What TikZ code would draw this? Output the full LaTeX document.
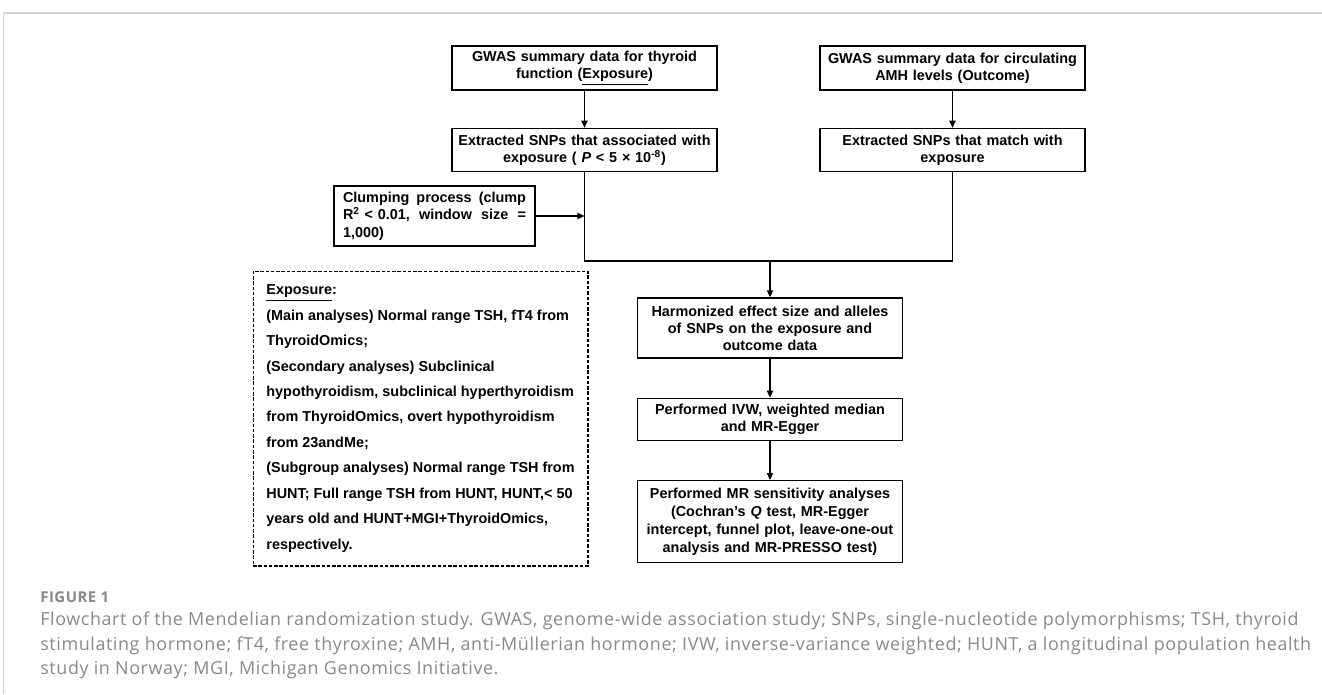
\documentclass[tikz,border=0pt]{standalone}
\usepackage{fontspec}
\setmainfont{Liberation Sans}
\newfontfamily\capfont[LetterSpace=3.3]{Open Sans}
\usetikzlibrary{positioning,arrows.meta}
\definecolor{capgray}{HTML}{888888}
\definecolor{framegray}{HTML}{D2D2D2}

\tikzset{
  flowbox/.style={draw, line width=0.8pt, align=center, text width=5.1cm,
    inner xsep=0.1cm, inner ysep=1pt,
    font=\fontsize{8.2}{9.7}\selectfont\bfseries},
  notebox/.style={draw, dash pattern=on 2pt off 1pt, line width=0.6pt,
    align=left, minimum width=6.7cm, minimum height=5.9cm,
    font=\fontsize{8.2}{14.5}\selectfont\bfseries},
  flowarrow/.style={-{Triangle[length=4pt,width=3.5pt]}, line width=0.8pt},
  flowline/.style={line width=0.8pt},
  capline/.style={anchor=west, inner sep=0pt, text=capgray,
    font=\capfont\fontsize{10.2}{12}\selectfont},
}

\begin{document}
\begin{tikzpicture}[x=0.02cm,y=-0.02cm]
\useasboundingbox (0,0) rectangle (1322,694);
% page frame
\draw[framegray, line width=1.2pt] (3,13) -- (1322,13);
\draw[framegray, line width=0.5pt] (3.5,13) -- (3.5,694);

% exposure side
\node[flowbox, minimum height=0.88cm] (gwasT) at (584.5,68)
  {GWAS summary data for thyroid\\function (\underline{Exposure})};
\node[flowbox, minimum height=0.86cm, below=0.74cm of gwasT] (snpT)
  {Extracted SNPs that associated with\\exposure ( \textit{P} < 5 × 10\textsuperscript{-8})};

% outcome side
\node[flowbox, minimum height=0.88cm] (gwasA) at (952.5,68)
  {GWAS summary data for circulating\\AMH levels (Outcome)};
\node[flowbox, minimum height=0.86cm, below=0.74cm of gwasA] (snpA)
  {Extracted SNPs that match with\\exposure};

% clumping
\node[flowbox, align=left, text width=3.66cm, inner xsep=0.18cm,
  minimum height=1.2cm, font=\fontsize{8.2}{10}\selectfont\bfseries] (clump) at (434.5,216)
  {\makebox[3.66cm]{Clumping\hfill process\hfill (clump}\\
   \makebox[3.66cm]{R\textsuperscript{2} < 0.01,\hfill window\hfill size\hfill =}\\
   1,000)};

\coordinate (join) at (770,261);

% analysis steps
\node[flowbox, minimum height=1.2cm] (harm) at (770,328)
  {Harmonized effect size and alleles\\of SNPs on the exposure and\\outcome data};
\node[flowbox, minimum height=0.84cm, below=0.78cm of harm] (ivw)
  {Performed IVW, weighted median\\and MR-Egger};
\node[flowbox, minimum height=1.64cm, below=0.78cm of ivw,
  font=\fontsize{8.2}{10.3}\selectfont\bfseries] (sens)
  {Performed MR sensitivity analyses\\(Cochran’s \textit{Q} test, MR-Egger\\intercept, funnel plot, leave-one-out\\analysis and MR-PRESSO test)};

% exposure note
\node[notebox] (note) at (420.5,418.5)
  {\underline{Exposure}:\\
   (Main analyses) Normal range TSH, fT4 from\\
   ThyroidOmics;\\
   (Secondary analyses) Subclinical\\
   hypothyroidism, subclinical hyperthyroidism\\
   from ThyroidOmics, overt hypothyroidism\\
   from 23andMe;\\
   (Subgroup analyses) Normal range TSH from\\
   HUNT; Full range TSH from HUNT, HUNT,< 50\\
   years old and HUNT+MGI+ThyroidOmics,\\
   respectively.};

% connectors
\draw[flowarrow] (gwasT) -- (snpT);
\draw[flowarrow] (gwasA) -- (snpA);
\draw[flowline] (snpT) |- (join) -| (snpA);
\draw[flowarrow] (clump.east) -- (clump.east -| snpT.south);
\draw[flowarrow] (join) -- (harm);
\draw[flowarrow] (harm) -- (ivw);
\draw[flowarrow] (ivw) -- (sens);

% caption
\node[capline, font=\capfont\fontsize{8.5}{10}\selectfont\bfseries] (figlabel) at (40,597) {FIGURE 1};
\node[capline] (capA) at (40,621) {Flowchart of the Mendelian randomization study. GWAS, genome-wide association study; SNPs, single-nucleotide polymorphisms; TSH, thyroid};
\node[capline] (capB) at (40,646) {stimulating hormone; fT4, free thyroxine; AMH, anti-Müllerian hormone; IVW, inverse-variance weighted; HUNT, a longitudinal population health};
\node[capline] (capC) at (40,670) {study in Norway; MGI, Michigan Genomics Initiative.};
\end{tikzpicture}
\end{document}
